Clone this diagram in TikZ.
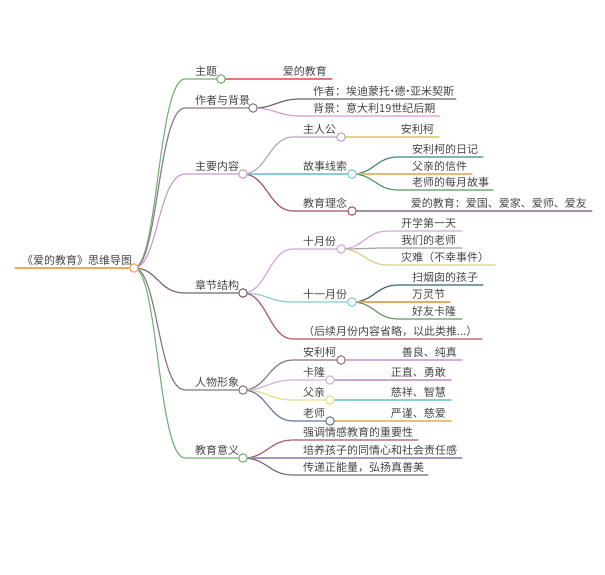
\documentclass[tikz,border=0pt]{standalone}
\usepackage{fontspec}
\setmainfont{Noto Sans CJK SC}
\newcommand\mdot{\hbox to 4.5pt{\hss·\hss}}
\definecolor{txt}{HTML}{444444}
\definecolor{cRoot}{HTML}{F0AA60}
\definecolor{cGreen}{HTML}{78B478}
\definecolor{cAuth}{HTML}{8C7C8C}
\definecolor{cMain}{HTML}{C8A0C8}
\definecolor{cChap}{HTML}{7A6A72}
\definecolor{cChar}{HTML}{8A7A84}
\definecolor{cRed}{HTML}{E07878}
\definecolor{cDark}{HTML}{706868}
\definecolor{cPink}{HTML}{D8A0C8}
\definecolor{cLav}{HTML}{B8A8C0}
\definecolor{cCyan}{HTML}{88CCD4}
\definecolor{cMaroon}{HTML}{A85868}
\definecolor{cYel}{HTML}{E0D088}
\definecolor{cTeal}{HTML}{4A8888}
\definecolor{cOrange}{HTML}{E8B878}
\definecolor{cGreen2}{HTML}{5A9A68}
\definecolor{cGrayPur}{HTML}{A090A8}
\definecolor{cPink2}{HTML}{D8A8D8}
\definecolor{cGray}{HTML}{A8A0A8}
\definecolor{cOlive}{HTML}{D8D088}
\definecolor{cBlueT}{HTML}{3A6878}
\definecolor{cOrange2}{HTML}{E8A868}
\definecolor{cGreen3}{HTML}{6A9A6A}
\definecolor{cRed2}{HTML}{B85868}
\definecolor{cPink3}{HTML}{D8B0D0}
\definecolor{cPur}{HTML}{C8A8D0}
\definecolor{cYel2}{HTML}{E0E088}
\definecolor{cBlue}{HTML}{6A7CA0}
\definecolor{cGold}{HTML}{E8C070}
\definecolor{cMar2}{HTML}{A86070}
\definecolor{cPur2}{HTML}{A898B8}
\definecolor{cPur3}{HTML}{7A6A80}
\begin{document}
\begin{tikzpicture}[x=1pt,y=-1pt,
  ln/.style={line width=1.2pt,line cap=round},
  dot/.style={circle,draw=#1,fill=white,line width=1.1pt,minimum size=8.5pt,inner sep=0pt},
  lt/.style={anchor=base west,inner sep=0pt,text=txt,font=\fontsize{11}{13}\selectfont},
  rt/.style={anchor=base east,inner sep=0pt,text=txt,font=\fontsize{11}{13}\selectfont}]
\useasboundingbox (0,0) rectangle (605,574);
% ---- coordinates of circles
\coordinate (root) at (134,268);
\coordinate (m1) at (221,79);
\coordinate (m2) at (253,108);
\coordinate (m3) at (243,174);
\coordinate (m4) at (243,293);
\coordinate (m5) at (243,390);
\coordinate (m6) at (243,458);
\coordinate (m3a) at (341,137);
\coordinate (m3b) at (352,174);
\coordinate (m3c) at (352,211);
\coordinate (m4a) at (341,249);
\coordinate (m4b) at (352,302);
\coordinate (m5a) at (341,360);
\coordinate (m5b) at (330,380);
\coordinate (m5c) at (330,400);
\coordinate (m5d) at (330,421);
% ---- root
\coordinate (rootL) at (15,268);
\draw[ln,cRoot] (rootL) -- (root);
\node[lt] (tRoot) at (22,264.5) {《爱的教育》思维导图};
% ---- main branches
\foreach \n/\y/\c in {m1/79/cGreen,m2/108/cAuth,m3/174/cMain,m4/293/cChap,m5/390/cChar,m6/458/cGreen}{
  \coordinate (\n s) at (185,\y);
  \draw[ln,\c] (root) .. controls +(24,0) and +(-27,0) .. (\n s) -- (\n);
}
\node[lt] (t1) at (195,75.5) {主题};
\node[lt] (t2) at (195,104.5) {作者与背景};
\node[lt] (t3) at (195,170.5) {主要内容};
\node[lt] (t4) at (195,289.5) {章节结构};
\node[lt] (t5) at (195,386.5) {人物形象};
\node[lt] (t6) at (195,454.5) {教育意义};
% ---- 主题
\coordinate (e1) at (332,79);
\draw[ln,cRed] (m1) -- (e1);
\node[rt] (t1a) at (327,75.5) {爱的教育};
% ---- 作者与背景
\foreach \n/\y/\e/\c in {a/99/456/cDark,b/116/440/cPink}{
  \coordinate (m2\n s) at (300,\y);
  \coordinate (m2\n e) at (\e,\y);
  \draw[ln,\c] (m2) .. controls +(22,0) and +(-22,0) .. (m2\n s) -- (m2\n e);
}
\node[lt] (t2a) at (313,95.5) {作者：埃迪蒙托\mdot 德\mdot 亚米契斯};
\node[lt] (t2b) at (313,112.5) {背景：意大利19世纪后期};
% ---- 主要内容
\coordinate (m3as) at (293,137);
\coordinate (m3cs) at (293,211);
\draw[ln,cLav] (m3) .. controls +(24,0) and +(-24,0) .. (m3as) -- (m3a);
\draw[ln,cCyan] (m3) -- (m3b);
\draw[ln,cMaroon] (m3) .. controls +(24,0) and +(-24,0) .. (m3cs) -- (m3c);
\node[lt] (t3a) at (303,133.5) {主人公};
\node[lt] (t3b) at (303,170.5) {故事线索};
\node[lt] (t3c) at (303,207.5) {教育理念};
\coordinate (m3ae) at (439,137);
\draw[ln,cYel] (m3a) -- (m3ae);
\node[rt] (t3a1) at (434,133.5) {安利柯};
\foreach \n/\y/\e/\c in {a/157/483/cTeal,b/174/472/cOrange,c/190/493/cGreen2}{
  \coordinate (m3b\n s) at (398,\y);
  \coordinate (m3b\n e) at (\e,\y);
  \draw[ln,\c] (m3b) .. controls +(22,0) and +(-22,0) .. (m3b\n s) -- (m3b\n e);
}
\node[lt] (t3b1) at (412,153.5) {安利柯的日记};
\node[lt] (t3b2) at (412,170.5) {父亲的信件};
\node[lt] (t3b3) at (412,186.5) {老师的每月故事};
\coordinate (m3ce) at (592,211);
\draw[ln,cGrayPur] (m3c) -- (m3ce);
\node[rt] (t3c1) at (587,207.5) {爱的教育：爱国、爱家、爱师、爱友};
% ---- 章节结构
\coordinate (m4as) at (293,249);
\coordinate (m4bs) at (293,302);
\coordinate (m4cs) at (293,339);
\coordinate (m4ce) at (482,339);
\draw[ln,cPink2] (m4) .. controls +(24,0) and +(-24,0) .. (m4as) -- (m4a);
\draw[ln,cCyan] (m4) .. controls +(24,0) and +(-24,0) .. (m4bs) -- (m4b);
\draw[ln,cRed2] (m4) .. controls +(24,0) and +(-24,0) .. (m4cs) -- (m4ce);
\node[lt] (t4a) at (303,245.5) {十月份};
\node[lt] (t4b) at (303,298.5) {十一月份};
\node[lt] (t4c) at (303,335.5) {（后续月份内容省略，以此类推...）};
\foreach \n/\y/\e/\c in {a/231/462/cPink2,b/248/462/cGray,c/265/495/cOlive}{
  \coordinate (m4a\n s) at (388,\y);
  \coordinate (m4a\n e) at (\e,\y);
  \draw[ln,\c] (m4a) .. controls +(22,0) and +(-22,0) .. (m4a\n s) -- (m4a\n e);
}
\node[lt] (t4a1) at (401,227.5) {开学第一天};
\node[lt] (t4a2) at (401,244.5) {我们的老师};
\node[lt] (t4a3) at (401,261.5) {灾难（不幸事件）};
\foreach \n/\y/\e/\c in {a/285/483/cBlueT,b/302/450/cOrange2,c/319/462/cGreen3}{
  \coordinate (m4b\n s) at (398,\y);
  \coordinate (m4b\n e) at (\e,\y);
  \draw[ln,\c] (m4b) .. controls +(22,0) and +(-22,0) .. (m4b\n s) -- (m4b\n e);
}
\node[lt] (t4b1) at (412,281.5) {扫烟囱的孩子};
\node[lt] (t4b2) at (412,298.5) {万灵节};
\node[lt] (t4b3) at (412,315.5) {好友卡隆};
% ---- 人物形象
\foreach \n/\y/\c/\ec/\e in {a/360/cChar/cPink2/462,b/380/cPink3/cPur/451,c/400/cYel2/cCyan/451,d/421/cBlue/cGold/451}{
  \coordinate (m5\n s) at (293,\y);
  \coordinate (m5\n e) at (\e,\y);
  \draw[ln,\c] (m5) .. controls +(24,0) and +(-24,0) .. (m5\n s) -- (m5\n);
  \draw[ln,\ec] (m5\n) -- (m5\n e);
}
\node[lt] (t5a) at (303,356.5) {安利柯};
\node[lt] (t5b) at (303,376.5) {卡隆};
\node[lt] (t5c) at (303,396.5) {父亲};
\node[lt] (t5d) at (303,417.5) {老师};
\node[rt] (t5a1) at (457,356.5) {善良、纯真};
\node[rt] (t5b1) at (446,376.5) {正直、勇敢};
\node[rt] (t5c1) at (446,396.5) {慈祥、智慧};
\node[rt] (t5d1) at (446,417.5) {严谨、慈爱};
% ---- 教育意义
\foreach \n/\y/\e/\c in {a/440/418/cMar2,b/458/462/cPur2,c/475/428/cPur3}{
  \coordinate (m6\n s) at (293,\y);
  \coordinate (m6\n e) at (\e,\y);
  \draw[ln,\c] (m6) .. controls +(24,0) and +(-24,0) .. (m6\n s) -- (m6\n e);
}
\node[lt] (t6a) at (303,436.5) {强调情感教育的重要性};
\node[lt] (t6b) at (303,454.5) {培养孩子的同情心和社会责任感};
\node[lt] (t6c) at (303,471.5) {传递正能量，弘扬真善美};
% ---- circles on top
\node[dot=cRoot] (nRoot) at (root) {};
\node[dot=cGreen] (n1) at (m1) {};
\node[dot=cAuth] (n2) at (m2) {};
\node[dot=cMain] (n3) at (m3) {};
\node[dot=cChap] (n4) at (m4) {};
\node[dot=cChar] (n5) at (m5) {};
\node[dot=cGreen] (n6) at (m6) {};
\node[dot=cLav] (n3a) at (m3a) {};
\node[dot=cCyan] (n3b) at (m3b) {};
\node[dot=cMaroon] (n3c) at (m3c) {};
\node[dot=cPink2] (n4a) at (m4a) {};
\node[dot=cCyan] (n4b) at (m4b) {};
\node[dot=cChar] (n5a) at (m5a) {};
\node[dot=cPink3] (n5b) at (m5b) {};
\node[dot=cYel2] (n5c) at (m5c) {};
\node[dot=cBlue] (n5d) at (m5d) {};
\end{tikzpicture}
\end{document}
